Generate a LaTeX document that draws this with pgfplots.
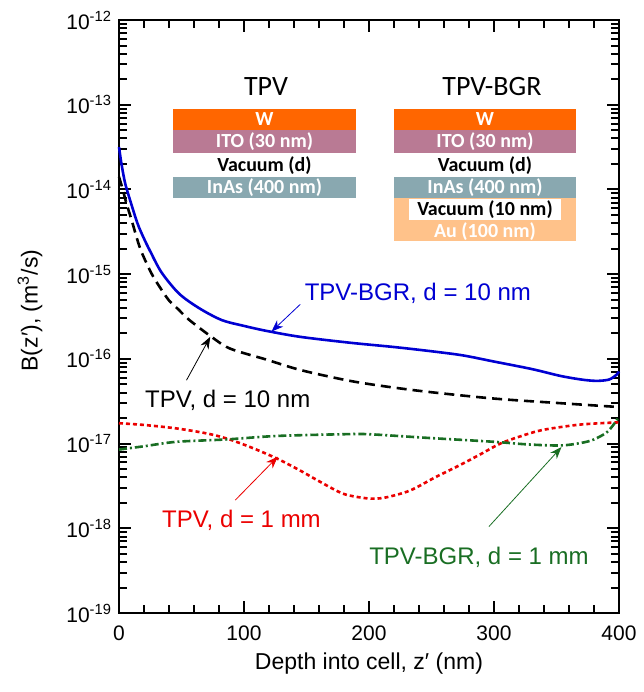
\documentclass[border=0pt]{standalone}
\usepackage{fontspec}
\setmainfont{Liberation Sans}
\newfontfamily\calibri{Carlito}
\usepackage{pgfplots}
\pgfplotsset{compat=1.18}
\usetikzlibrary{arrows.meta}

\definecolor{bgrblue}{RGB}{0,0,210}
\definecolor{tpvred}{RGB}{235,0,0}
\definecolor{bgrgreen}{RGB}{25,110,35}
\definecolor{wcol}{RGB}{255,102,0}
\definecolor{itocol}{RGB}{185,122,148}
\definecolor{inascol}{RGB}{137,168,176}
\definecolor{aucol}{RGB}{255,194,138}

\begin{document}
\begin{tikzpicture}
\path (-59.5pt,-39.5pt) rectangle (258.5pt,306.5pt);
\begin{axis}[
    at={(0,0)}, anchor=south west,
    scale only axis, width=250pt, height=296.5pt,
    xmin=0, xmax=400,
    ymode=log, ymin=1e-19, ymax=1e-12,
    xtick={0,100,200,300,400}, minor x tick num=4,
    ytick={1e-19,1e-18,1e-17,1e-16,1e-15,1e-14,1e-13,1e-12},
    yticklabels={10\textsuperscript{-19},10\textsuperscript{-18},10\textsuperscript{-17},10\textsuperscript{-16},10\textsuperscript{-15},10\textsuperscript{-14},10\textsuperscript{-13},10\textsuperscript{-12}},
    minor ytick={2e-19,3e-19,4e-19,5e-19,6e-19,7e-19,8e-19,9e-19,
                 2e-18,3e-18,4e-18,5e-18,6e-18,7e-18,8e-18,9e-18,
                 2e-17,3e-17,4e-17,5e-17,6e-17,7e-17,8e-17,9e-17,
                 2e-16,3e-16,4e-16,5e-16,6e-16,7e-16,8e-16,9e-16,
                 2e-15,3e-15,4e-15,5e-15,6e-15,7e-15,8e-15,9e-15,
                 2e-14,3e-14,4e-14,5e-14,6e-14,7e-14,8e-14,9e-14,
                 2e-13,3e-13,4e-13,5e-13,6e-13,7e-13,8e-13,9e-13},
    /pgf/number format/assume math mode=true,
    tick align=inside, tick pos=both,
    major tick length=6pt, minor tick length=4pt,
    axis line style={line width=1.2pt},
    every tick/.append style={black, line width=1pt},
    tick label style={font=\fontsize{10.5}{12}\selectfont},
    xticklabel style={yshift=-3pt},
    xlabel={Depth into cell, z′ (nm)},
    ylabel={B(z′), (m\textsuperscript{3}/s)},
    label style={font=\fontsize{11.5}{13}\selectfont},
    xlabel style={at={(rel axis cs:0.5,0)}, anchor=center, yshift=-25.5pt},
    ylabel style={at={(axis description cs:-0.178,0.51)}, anchor=center},
    clip=false,
]
% TPV-BGR, d = 10 nm
\addplot[bgrblue, line width=1.3pt, smooth] table {
x y
0 3.16e-14
2 2.0e-14
5 1.17e-14
10 6.6e-15
15 3.9e-15
20 2.63e-15
25 1.86e-15
34 1.05e-15
48 5.9e-16
64 3.98e-16
82 2.88e-16
100 2.45e-16
118 2.14e-16
145 1.82e-16
185 1.55e-16
220 1.38e-16
250 1.23e-16
275 1.10e-16
300 9.3e-17
330 7.6e-17
353 6.3e-17
370 5.7e-17
382 5.5e-17
392 5.7e-17
398 6.5e-17
400 7.1e-17
};
% TPV, d = 10 nm
\addplot[black, line width=1.3pt, dash pattern=on 5pt off 3pt, smooth] table {
x y
0 1.41e-14
3 1.0e-14
6 6.8e-15
10 4.4e-15
17 2.0e-15
26 1.02e-15
33 6.9e-16
40 4.9e-16
47 3.9e-16
56 2.9e-16
74 1.82e-16
89 1.32e-16
118 9.8e-17
145 7.4e-17
182 5.6e-17
210 4.8e-17
246 4.1e-17
300 3.4e-17
353 3.0e-17
400 2.7e-17
};
% TPV, d = 1 mm
\addplot[tpvred, line width=1.3pt, dash pattern=on 2pt off 1.5pt, smooth] table {
x y
0 1.74e-17
20 1.66e-17
46 1.51e-17
70 1.32e-17
86 1.15e-17
105 9.1e-18
126 6.7e-18
145 4.8e-18
160 3.6e-18
179 2.57e-18
195 2.29e-18
205 2.24e-18
215 2.34e-18
233 2.8e-18
253 4.0e-18
273 5.6e-18
290 7.6e-18
305 1.0e-17
322 1.23e-17
339 1.45e-17
366 1.66e-17
385 1.74e-17
400 1.78e-17
};
% TPV-BGR, d = 1 mm
\addplot[bgrgreen, line width=1.3pt, dash pattern=on 4pt off 1.5pt on 1pt off 1.5pt, smooth] table {
x y
0 8.5e-18
20 9.3e-18
46 1.05e-17
86 1.12e-17
126 1.23e-17
180 1.29e-17
200 1.29e-17
246 1.17e-17
300 1.05e-17
326 9.8e-18
353 9.5e-18
370 1.02e-17
380 1.12e-17
390 1.35e-17
396 1.7e-17
400 2.1e-17
};
% annotations
\draw[bgrblue, -{Stealth[length=6pt,width=4.5pt]}] (axis cs:145,4.4e-16) -- (axis cs:122,2.1e-16);
\node[bgrblue, anchor=west, font=\fontsize{12}{14}\selectfont] at (axis cs:143,6.0e-16) {TPV-BGR, d = 10 nm};
\draw[black, -{Stealth[length=6pt,width=4.5pt]}] (axis cs:54,5.6e-17) -- (axis cs:73,1.82e-16);
\node[black, font=\fontsize{12}{14}\selectfont] at (axis cs:87,3.27e-17) {TPV, d = 10 nm};
\draw[tpvred, -{Stealth[length=6pt,width=4.5pt]}] (axis cs:93,2.15e-18) -- (axis cs:127,7.0e-18);
\node[tpvred, font=\fontsize{12}{14}\selectfont] at (axis cs:98,1.25e-18) {TPV, d = 1 mm};
\draw[bgrgreen, -{Stealth[length=6pt,width=4.5pt]}] (axis cs:296,1.05e-18) -- (axis cs:354,9.1e-18);
\node[bgrgreen, font=\fontsize{12}{14}\selectfont] at (axis cs:288,4.57e-19) {TPV-BGR, d = 1 mm};
\end{axis}
% structure insets
\begin{scope}[font=\calibri\bfseries\fontsize{10}{11}\selectfont]
\node[font=\calibri\fontsize{14}{16}\selectfont] at (73.5pt,263pt) {TPV};
\fill[wcol] (27pt,241.5pt) rectangle (118.5pt,252pt);
\fill[itocol] (27pt,230pt) rectangle (118.5pt,241.5pt);
\fill[inascol] (27pt,207.5pt) rectangle (118.5pt,218pt);
\node[white] at (72.75pt,246.75pt) {W};
\node[white] at (72.75pt,235.75pt) {ITO (30 nm)};
\node[black] at (72.75pt,223.5pt) {Vacuum (d)};
\node[white] at (72.75pt,212.75pt) {InAs (400 nm)};
\node[font=\calibri\fontsize{14}{16}\selectfont] at (186.5pt,263pt) {TPV-BGR};
\fill[wcol] (137.5pt,241.5pt) rectangle (228.5pt,252pt);
\fill[itocol] (137.5pt,230pt) rectangle (228.5pt,241.5pt);
\fill[inascol] (137.5pt,207.5pt) rectangle (228.5pt,218pt);
\fill[aucol] (137.5pt,186pt) rectangle (228.5pt,207.5pt);
\fill[white] (145pt,196.5pt) rectangle (221pt,207pt);
\node[white] at (183pt,246.75pt) {W};
\node[white] at (183pt,235.75pt) {ITO (30 nm)};
\node[black] at (183pt,223.5pt) {Vacuum (d)};
\node[white] at (183pt,212.75pt) {InAs (400 nm)};
\node[black] at (183pt,201.5pt) {Vacuum (10 nm)};
\node[white] at (183pt,190.5pt) {Au (100 nm)};
\end{scope}
\end{tikzpicture}
\end{document}
